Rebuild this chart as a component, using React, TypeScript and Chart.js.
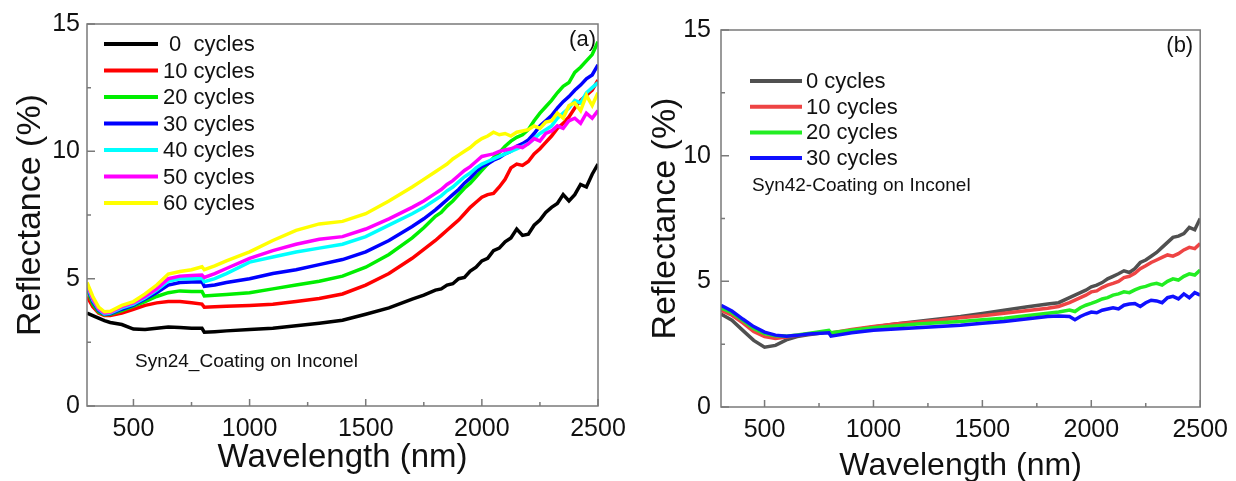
import React, { useEffect, useRef } from "react";
import { Chart, registerables } from "chart.js";

Chart.register(...registerables);

const FONT = "'Liberation Sans', Arial, Helvetica, sans-serif";

// ---------- Panel (a): Syn24 coating ----------
const wavelengthA = [300, 325, 350, 375, 400, 450, 500, 550, 600, 650, 700, 750, 795, 805, 850, 900, 1000, 1100, 1200, 1300, 1400, 1500, 1600, 1700, 1750, 1800, 1825, 1850, 1875, 1900, 1925, 1950, 1975, 2000, 2025, 2050, 2075, 2100, 2125, 2150, 2175, 2200, 2225, 2250, 2275, 2300, 2325, 2350, 2375, 2400, 2425, 2450, 2475, 2500];
const a0cycles = [3.65, 3.55, 3.45, 3.35, 3.28, 3.2, 3.02, 3.0, 3.05, 3.1, 3.08, 3.05, 3.05, 2.9, 2.92, 2.95, 3.0, 3.05, 3.15, 3.25, 3.37, 3.6, 3.85, 4.2, 4.35, 4.55, 4.6, 4.75, 4.8, 5.0, 5.05, 5.3, 5.45, 5.7, 5.8, 6.1, 6.2, 6.45, 6.6, 6.95, 6.7, 6.75, 7.1, 7.3, 7.6, 7.8, 7.95, 8.3, 8.05, 8.3, 8.7, 8.6, 9.1, 9.5];
const a10cycles = [4.3, 3.9, 3.65, 3.55, 3.55, 3.65, 3.8, 3.95, 4.05, 4.1, 4.1, 4.05, 4.0, 3.88, 3.9, 3.92, 3.95, 4.0, 4.1, 4.22, 4.4, 4.75, 5.2, 5.8, 6.15, 6.5, 6.7, 6.9, 7.1, 7.3, 7.55, 7.8, 8.0, 8.2, 8.3, 8.35, 8.6, 8.9, 9.35, 9.5, 9.45, 9.6, 9.9, 10.1, 10.35, 10.6, 10.9, 11.1, 11.35, 11.7, 12.0, 12.2, 12.4, 12.8];
const a20cycles = [4.6, 4.0, 3.7, 3.58, 3.6, 3.75, 3.92, 4.1, 4.3, 4.45, 4.52, 4.5, 4.5, 4.32, 4.35, 4.38, 4.45, 4.6, 4.75, 4.9, 5.1, 5.45, 5.95, 6.6, 7.0, 7.45, 7.6, 7.85, 8.05, 8.3, 8.55, 8.75, 9.0, 9.25, 9.5, 9.75, 9.95, 10.2, 10.4, 10.55, 10.65, 10.85, 11.2, 11.5, 11.75, 12.0, 12.3, 12.55, 12.7, 13.1, 13.3, 13.55, 13.8, 14.3];
const a30cycles = [4.7, 4.1, 3.75, 3.6, 3.62, 3.8, 3.96, 4.2, 4.45, 4.75, 4.85, 4.87, 4.88, 4.7, 4.75, 4.85, 5.0, 5.2, 5.35, 5.55, 5.75, 6.05, 6.5, 7.05, 7.35, 7.7, 7.9, 8.1, 8.3, 8.5, 8.75, 8.95, 9.2, 9.4, 9.5, 9.65, 9.75, 9.9, 10.0, 10.2, 10.3, 10.45, 10.7, 11.0, 11.2, 11.4, 11.7, 11.95, 12.15, 12.4, 12.6, 12.85, 13.0, 13.4];
const a40cycles = [4.75, 4.15, 3.8, 3.62, 3.65, 3.85, 4.0, 4.25, 4.55, 4.9, 5.0, 5.0, 5.02, 4.88, 5.0, 5.2, 5.65, 5.85, 6.05, 6.2, 6.35, 6.65, 7.1, 7.55, 7.8, 8.1, 8.25, 8.45, 8.6, 8.8, 9.0, 9.15, 9.35, 9.5, 9.6, 9.7, 9.8, 9.9, 10.0, 10.1, 10.2, 10.3, 10.5, 10.7, 10.85, 11.0, 11.3, 11.5, 11.7, 12.0, 11.9, 12.3, 12.5, 12.7];
const a50cycles = [4.8, 4.2, 3.82, 3.65, 3.68, 3.9, 4.05, 4.3, 4.6, 5.0, 5.1, 5.12, 5.14, 5.05, 5.2, 5.4, 5.8, 6.1, 6.35, 6.55, 6.65, 6.95, 7.35, 7.8, 8.05, 8.35, 8.5, 8.7, 8.85, 9.05, 9.25, 9.4, 9.6, 9.8, 9.85, 9.9, 10.0, 10.05, 10.1, 10.2, 10.15, 10.3, 10.5, 10.4, 10.7, 10.8, 11.0, 10.9, 11.2, 11.3, 11.1, 11.5, 11.3, 11.6];
const a60cycles = [4.85, 4.3, 3.88, 3.7, 3.72, 3.95, 4.1, 4.4, 4.75, 5.18, 5.28, 5.35, 5.47, 5.35, 5.5, 5.7, 6.05, 6.5, 6.9, 7.15, 7.25, 7.55, 8.05, 8.6, 8.9, 9.2, 9.35, 9.5, 9.7, 9.85, 10.0, 10.15, 10.35, 10.5, 10.6, 10.75, 10.65, 10.7, 10.6, 10.75, 10.8, 10.85, 11.0, 10.9, 11.15, 11.2, 11.5, 11.3, 11.8, 11.9, 11.6, 12.2, 11.8, 12.3];
const labelsA = [" 0  cycles", "10 cycles", "20 cycles", "30 cycles", "40 cycles", "50 cycles", "60 cycles"];
const colorsA = ["#000000", "#ff0000", "#00ee00", "#0000ff", "#00ffff", "#ff00ff", "#ffff00"];
const tagA = "(a)";
const noteA = "Syn24_Coating on Inconel";

// ---------- Panel (b): Syn42 coating ----------
const wavelengthB = [300, 350, 400, 450, 500, 550, 600, 650, 700, 795, 805, 900, 1000, 1100, 1200, 1300, 1400, 1500, 1600, 1700, 1800, 1850, 1900, 1925, 1950, 1975, 2000, 2025, 2050, 2075, 2100, 2125, 2150, 2175, 2200, 2225, 2250, 2275, 2300, 2325, 2350, 2375, 2400, 2425, 2450, 2475, 2500];
const b0cycles = [3.7, 3.45, 3.05, 2.65, 2.38, 2.45, 2.67, 2.8, 2.87, 2.98, 2.93, 3.05, 3.18, 3.3, 3.4, 3.5, 3.6, 3.72, 3.85, 3.98, 4.1, 4.15, 4.35, 4.45, 4.55, 4.65, 4.78, 4.85, 4.95, 5.1, 5.2, 5.3, 5.42, 5.35, 5.5, 5.75, 5.85, 6.0, 6.15, 6.35, 6.55, 6.75, 6.8, 6.9, 7.15, 7.05, 7.5];
const b10cycles = [3.85, 3.65, 3.35, 3.0, 2.8, 2.73, 2.78, 2.85, 2.9, 3.0, 2.95, 3.08, 3.2, 3.3, 3.37, 3.45, 3.55, 3.63, 3.73, 3.83, 3.93, 4.0, 4.15, 4.25, 4.35, 4.45, 4.58, 4.62, 4.75, 4.85, 4.92, 5.0, 5.15, 5.2, 5.32, 5.5, 5.62, 5.75, 5.85, 5.95, 6.05, 6.0, 6.1, 6.25, 6.35, 6.3, 6.5];
const b20cycles = [3.95, 3.75, 3.45, 3.12, 2.92, 2.83, 2.82, 2.87, 2.93, 3.05, 2.95, 3.05, 3.15, 3.22, 3.3, 3.35, 3.4, 3.47, 3.53, 3.63, 3.73, 3.78, 3.86, 3.8, 3.95, 4.05, 4.12, 4.2, 4.3, 4.35, 4.45, 4.5, 4.58, 4.55, 4.66, 4.75, 4.8, 4.88, 4.92, 4.85, 5.0, 5.1, 5.05, 5.2, 5.3, 5.25, 5.45];
const b30cycles = [4.05, 3.82, 3.5, 3.2, 2.98, 2.86, 2.82, 2.85, 2.9, 2.95, 2.82, 2.95, 3.05, 3.1, 3.15, 3.2, 3.25, 3.33, 3.4, 3.5, 3.6, 3.62, 3.6, 3.47, 3.6, 3.7, 3.78, 3.75, 3.85, 3.9, 3.95, 3.9, 4.05, 4.1, 4.12, 4.0, 4.15, 4.25, 4.22, 4.15, 4.35, 4.4, 4.3, 4.5, 4.35, 4.55, 4.45];
const labelsB = ["0 cycles", "10 cycles", "20 cycles", "30 cycles"];
const colorsB = ["#505050", "#ee4444", "#22ee22", "#1010ff"];
const tagB = "(b)";
const noteB = "Syn42-Coating on Inconel";

// ---------- Shared axes ----------
const xMin = 300;
const xMax = 2500;
const yMin = 0;
const yMax = 15;
const xMajorTicks = [500, 1000, 1500, 2000, 2500];
const xMinorTicks = [750, 1250, 1750, 2250];
const yMajorTicks = [0, 5, 10, 15];
const yMinorTicks = [2.5, 7.5, 12.5];
const xTitle = "Wavelength (nm)";
const yTitle = "Reflectance (%)";

type Spec = {
  wl: number[];
  series: number[][];
  labels: string[];
  colors: string[];
  tag: string;
  note: string;
  width: number;
  left: number;
  yAxisWidth: number;
  xAxisHeight: number;
  padTop: number;
  padRight: number;
  yTitlePad: number;
  xTitlePad: number;
  xTitleSize: number;
  xTickPad: number;
  yTickPad: number;
  legX0: number;
  legX1: number;
  legTx: number;
  legY0: number;
  legDy: number;
  tagDx: number;
  tagDy: number;
  noteDx: number;
  noteY: (top: number, bottom: number) => number;
};

const specA: Spec = {
  wl: wavelengthA,
  series: [a0cycles, a10cycles, a20cycles, a30cycles, a40cycles, a50cycles, a60cycles],
  labels: labelsA,
  colors: colorsA,
  tag: tagA,
  note: noteA,
  width: 640,
  left: 0,
  yAxisWidth: 87,
  xAxisHeight: 75,
  padTop: 24,
  padRight: 42,
  yTitlePad: 10,
  xTitlePad: 3,
  xTitleSize: 33,
  xTickPad: 8,
  yTickPad: 7,
  legX0: 17,
  legX1: 71,
  legTx: 76,
  legY0: 20,
  legDy: 26.5,
  tagDx: 2,
  tagDy: 16,
  noteDx: 48,
  noteY: (top, bottom) => bottom - 44,
};

const specB: Spec = {
  wl: wavelengthB,
  series: [b0cycles, b10cycles, b20cycles, b30cycles],
  labels: labelsB,
  colors: colorsB,
  tag: tagB,
  note: noteB,
  width: 616,
  left: 620,
  yAxisWidth: 101,
  xAxisHeight: 74,
  padTop: 30,
  padRight: 31,
  yTitlePad: 25,
  xTitlePad: -4,
  xTitleSize: 32,
  xTickPad: 8,
  yTickPad: 10,
  legX0: 29,
  legX1: 81,
  legTx: 85,
  legY0: 51,
  legDy: 25.7,
  tagDx: 7,
  tagDy: 16,
  noteDx: 31,
  noteY: (top) => top + 156,
};

function makeDecor(spec: Spec) {
  return {
    id: "decor",
    afterDraw(chart: any) {
      const { ctx, chartArea: ca, scales } = chart;
      const xs = scales.x;
      const ys = scales.y;
      ctx.save();
      // frame
      ctx.strokeStyle = "#7a7a7a";
      ctx.lineWidth = 1.5;
      ctx.strokeRect(ca.left, ca.top, ca.right - ca.left, ca.bottom - ca.top);
      // inward ticks
      ctx.beginPath();
      for (const v of xMajorTicks) {
        const px = xs.getPixelForValue(v);
        ctx.moveTo(px, ca.bottom);
        ctx.lineTo(px, ca.bottom - 7);
      }
      for (const v of xMinorTicks) {
        const px = xs.getPixelForValue(v);
        ctx.moveTo(px, ca.bottom);
        ctx.lineTo(px, ca.bottom - 4);
      }
      for (const v of yMajorTicks) {
        const py = ys.getPixelForValue(v);
        ctx.moveTo(ca.left, py);
        ctx.lineTo(ca.left + 8, py);
      }
      for (const v of yMinorTicks) {
        const py = ys.getPixelForValue(v);
        ctx.moveTo(ca.left, py);
        ctx.lineTo(ca.left + 4, py);
      }
      ctx.stroke();
      // legend
      ctx.font = `22px ${FONT}`;
      ctx.textBaseline = "middle";
      ctx.textAlign = "left";
      chart.data.datasets.forEach((ds: any, i: number) => {
        const y = ca.top + spec.legY0 + i * spec.legDy;
        ctx.strokeStyle = ds.borderColor;
        ctx.lineWidth = 4;
        ctx.beginPath();
        ctx.moveTo(ca.left + spec.legX0, y);
        ctx.lineTo(ca.left + spec.legX1, y);
        ctx.stroke();
        ctx.fillStyle = "#111";
        ctx.fillText(ds.label, ca.left + spec.legTx, y + 1);
      });
      // tag
      ctx.font = `22px ${FONT}`;
      ctx.textAlign = "right";
      ctx.fillStyle = "#111";
      ctx.fillText(spec.tag, ca.right - spec.tagDx, ca.top + spec.tagDy);
      // note
      ctx.font = `19px ${FONT}`;
      ctx.textAlign = "left";
      ctx.fillText(spec.note, ca.left + spec.noteDx, spec.noteY(ca.top, ca.bottom));
      ctx.restore();
    },
  };
}

function makeConfig(spec: Spec): any {
  const n = spec.series.length;
  return {
    type: "line",
    data: {
      datasets: spec.series.map((s, i) => ({
        label: spec.labels[i],
        data: spec.wl.map((x, j) => ({ x, y: s[j] })),
        borderColor: spec.colors[i],
        backgroundColor: spec.colors[i],
        borderWidth: 3.5,
        pointRadius: 0,
        tension: 0,
        fill: false,
        order: n - 1 - i,
      })),
    },
    options: {
      animation: false,
      responsive: false,
      maintainAspectRatio: false,
      events: [],
      layout: { padding: { top: spec.padTop, right: spec.padRight, left: 0, bottom: 0 } },
      plugins: { legend: { display: false }, tooltip: { enabled: false } },
      scales: {
        x: {
          type: "linear",
          min: xMin,
          max: xMax,
          afterBuildTicks: (s: any) => {
            s.ticks = xMajorTicks.map((v) => ({ value: v }));
          },
          afterFit: (s: any) => {
            s.height = spec.xAxisHeight;
          },
          grid: { display: false, drawTicks: false },
          border: { display: false },
          ticks: {
            autoSkip: false,
            maxRotation: 0,
            padding: spec.xTickPad,
            color: "#111",
            font: { family: FONT, size: 25 },
            callback: (v: any) => String(v),
          },
          title: {
            display: true,
            text: xTitle,
            color: "#111",
            font: { family: FONT, size: spec.xTitleSize },
            padding: { top: 0, bottom: spec.xTitlePad },
          },
        },
        y: {
          type: "linear",
          min: yMin,
          max: yMax,
          afterBuildTicks: (s: any) => {
            s.ticks = yMajorTicks.map((v) => ({ value: v }));
          },
          afterFit: (s: any) => {
            s.width = spec.yAxisWidth;
          },
          grid: { display: false, drawTicks: false },
          border: { display: false },
          ticks: {
            padding: spec.yTickPad,
            color: "#111",
            font: { family: FONT, size: 25 },
            callback: (v: any) => String(v),
          },
          title: {
            display: true,
            text: yTitle,
            color: "#111",
            font: { family: FONT, size: 34 },
            padding: { top: spec.yTitlePad, bottom: 0 },
          },
        },
      },
    },
    plugins: [makeDecor(spec)],
  };
}

function Panel({ spec }: { spec: Spec }) {
  const ref = useRef<HTMLCanvasElement | null>(null);
  useEffect(() => {
    if (!ref.current) return;
    const chart = new Chart(ref.current, makeConfig(spec));
    return () => chart.destroy();
  }, [spec]);
  return (
    <canvas
      ref={ref}
      width={spec.width}
      height={481}
      style={{ position: "absolute", left: spec.left, top: 0, width: spec.width, height: 481 }}
    />
  );
}

export default function App() {
  return (
    <div
      style={{
        position: "fixed",
        left: 0,
        top: 0,
        width: 1236,
        height: 481,
        background: "#ffffff",
        overflow: "hidden",
      }}
    >
      <Panel spec={specA} />
      <Panel spec={specB} />
    </div>
  );
}
